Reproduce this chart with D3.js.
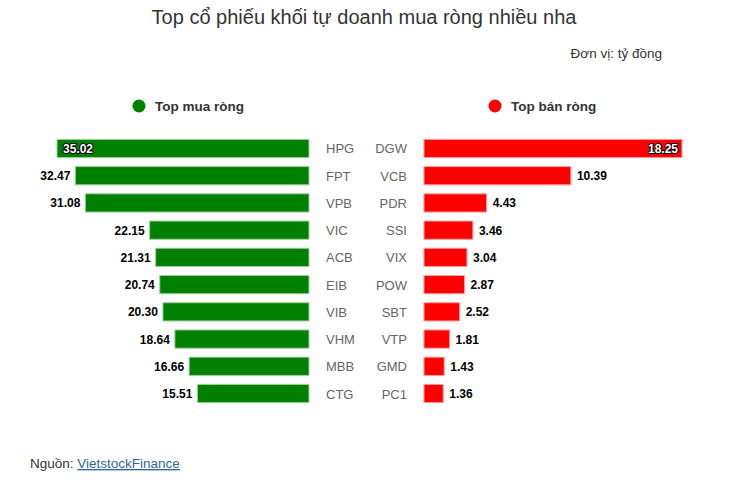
<!DOCTYPE html>
<html lang="vi">
<head>
    <meta charset="UTF-8">
    <title>Top cổ phiếu khối tự doanh</title>
    <script src="https://d3js.org/d3.v7.min.js"></script>
    <style>
        body { margin: 0; background: #fff; }
        svg { font-family: "Liberation Sans", Arial, sans-serif; }
        .val { font-size: 12px; font-weight: bold; }
        .tick-label { font-size: 13px; fill: #666; }
    </style>
</head>
<body>
<script>
    const width = 732;
    const height = 492;

    const buyCodes = ["HPG", "FPT", "VPB", "VIC", "ACB", "EIB", "VIB", "VHM", "MBB", "CTG"];
    const buyValues = [35.02, 32.47, 31.08, 22.15, 21.31, 20.74, 20.30, 18.64, 16.66, 15.51];
    const sellCodes = ["DGW", "VCB", "PDR", "SSI", "VIX", "POW", "SBT", "VTP", "GMD", "PC1"];
    const sellValues = [18.25, 10.39, 4.43, 3.46, 3.04, 2.87, 2.52, 1.81, 1.43, 1.36];

    const svg = d3.select("body").append("svg")
        .attr("width", width).attr("height", height);

    // title + unit
    svg.append("text")
        .attr("x", 364).attr("y", 24)
        .attr("text-anchor", "middle")
        .style("font-size", "20px").style("fill", "#333")
        .text("Top cổ phiếu khối tự doanh mua ròng nhiều nha");

    svg.append("text")
        .attr("x", 662).attr("y", 58)
        .attr("text-anchor", "end")
        .style("font-size", "13.5px").style("fill", "#333")
        .text("Đơn vị: tỷ đồng");

    // legends
    const legends = [
        {x: 139, color: "#008000", label: "Top mua ròng"},
        {x: 495, color: "#ff0000", label: "Top bán ròng"}
    ];
    legends.forEach(function(l) {
        svg.append("circle").attr("cx", l.x).attr("cy", 106).attr("r", 6.5).attr("fill", l.color);
        svg.append("text").attr("x", l.x + 16).attr("y", 111)
            .style("font-size", "13.5px").style("font-weight", "bold").style("fill", "#333")
            .text(l.label);
    });

    // band scale for rows
    const y = d3.scaleBand()
        .domain(d3.range(buyCodes.length))
        .range([135, 407])
        .paddingInner(0.33).paddingOuter(0.16);

    // left chart (buy) grows leftwards
    const xBuy = d3.scaleLinear().domain([0, 35.02]).range([309, 57]);
    // right chart (sell) grows rightwards
    const xSell = d3.scaleLinear().domain([0, 18.25]).range([424, 682]);

    const buyData = buyCodes.map((c, i) => ({code: c, value: buyValues[i], i: i}));
    const sellData = sellCodes.map((c, i) => ({code: c, value: sellValues[i], i: i}));

    svg.selectAll("rect.buy")
        .data(buyData).enter().append("rect")
        .attr("class", "buy")
        .attr("x", d => xBuy(d.value))
        .attr("y", d => y(d.i))
        .attr("width", d => xBuy(0) - xBuy(d.value))
        .attr("height", y.bandwidth())
        .attr("fill", "#008000")
        .attr("stroke", "#9fd09f").attr("stroke-width", 1);

    svg.selectAll("rect.sell")
        .data(sellData).enter().append("rect")
        .attr("class", "sell")
        .attr("x", xSell(0))
        .attr("y", d => y(d.i))
        .attr("width", d => xSell(d.value) - xSell(0))
        .attr("height", y.bandwidth())
        .attr("fill", "#ff0000")
        .attr("stroke", "#ffa0a0").attr("stroke-width", 1);

    // category labels
    svg.selectAll("text.buycat")
        .data(buyData).enter().append("text")
        .attr("class", "tick-label")
        .attr("x", 326)
        .attr("y", d => y(d.i) + y.bandwidth() / 2 + 5)
        .text(d => d.code);

    svg.selectAll("text.sellcat")
        .data(sellData).enter().append("text")
        .attr("class", "tick-label")
        .attr("x", 407)
        .attr("text-anchor", "end")
        .attr("y", d => y(d.i) + y.bandwidth() / 2 + 5)
        .text(d => d.code);

    // value labels: the largest bar gets its label inside
    function addLabels(data, scale, side, maxVal) {
        data.forEach(function(d) {
            const inside = d.value === maxVal;
            let x, anchor;
            if (side === "left") {
                x = inside ? scale(d.value) + 6 : scale(d.value) - 5;
                anchor = inside ? "start" : "end";
            } else {
                x = inside ? scale(d.value) - 4 : scale(d.value) + 6;
                anchor = inside ? "end" : "start";
            }
            const t = svg.append("text")
                .attr("class", "val")
                .attr("x", x)
                .attr("y", y(d.i) + y.bandwidth() / 2 + 4.5)
                .attr("text-anchor", anchor)
                .style("paint-order", "stroke")
                .style("stroke-linejoin", "round")
                .text(d.value.toFixed(2));
            if (inside) {
                t.style("fill", "#fff").style("stroke", "#000").style("stroke-width", "2px");
            } else {
                t.style("fill", "#000").style("stroke", "#fff").style("stroke-width", "2px");
            }
        });
    }
    addLabels(buyData, xBuy, "left", d3.max(buyValues));
    addLabels(sellData, xSell, "right", d3.max(sellValues));

    // source
    const src = svg.append("text")
        .attr("x", 30).attr("y", 468)
        .style("font-size", "13.5px").style("fill", "#333");
    src.append("tspan").text("Nguồn: ");
    src.append("tspan")
        .style("fill", "#336699")
        .style("text-decoration", "underline")
        .text("VietstockFinance");
</script>
</body>
</html>
